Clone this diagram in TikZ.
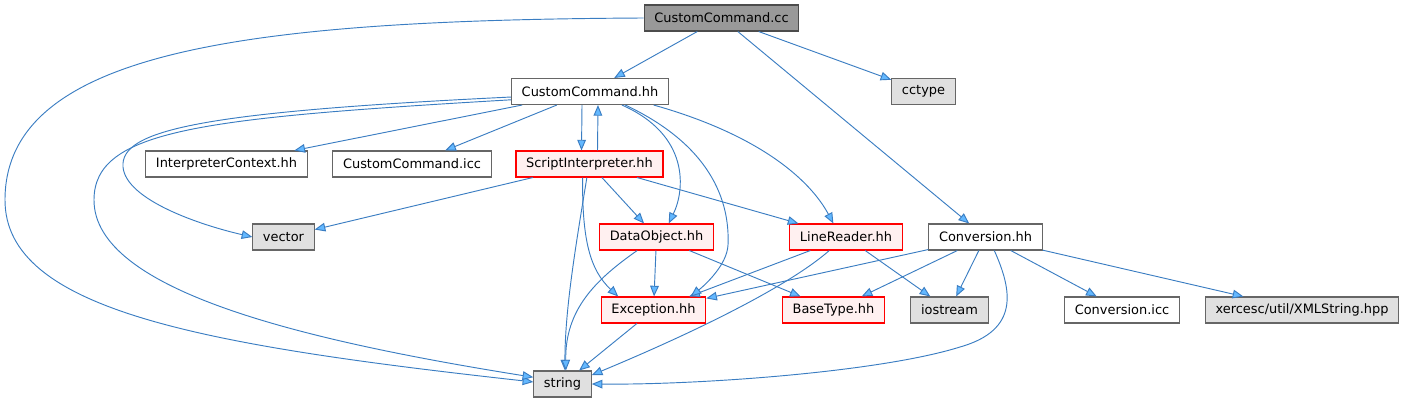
\documentclass[tikz,border=0pt]{standalone}
\usepackage{fontspec}
\setmainfont{DejaVu Sans}
\usetikzlibrary{arrows.meta}
\definecolor{depblue}{HTML}{3A7DC2}
\definecolor{depfill}{HTML}{63B8FF}
\definecolor{boxgray}{HTML}{666666}
\definecolor{redline}{HTML}{FF0000}
\definecolor{redfill}{HTML}{FFF0F0}
\definecolor{sysfill}{HTML}{E0E0E0}
\definecolor{mainfill}{HTML}{999999}
\tikzset{
    every node/.style={font=\fontsize{9.7}{11}\selectfont},
    filebox/.style={rectangle,draw=boxgray,fill=white,line width=0.8pt,inner xsep=7.6pt,inner ysep=0pt,minimum height=19.5pt},
    mainbox/.style={filebox,fill=mainfill,draw=black!70},
    sysbox/.style={filebox,fill=sysfill},
    badbox/.style={filebox,draw=redline,fill=redfill},
    dep/.style={draw=depblue,line width=0.7pt,-{Triangle[length=8pt,width=6.5pt,fill=depfill]}}
}
\begin{document}
\begin{tikzpicture}[x=0.75pt,y=-0.75pt]
\useasboundingbox (0,0) rectangle (1405,403);
\node[mainbox] (cc) at (721.5,18) {CustomCommand.cc};
\node[filebox] (hh) at (590,91.5) {CustomCommand.hh};
\node[sysbox] (cctype) at (923.5,91.5) {cctype};
\node[filebox] (ictx) at (226.5,164) {InterpreterContext.hh};
\node[filebox] (icc) at (412,164) {CustomCommand.icc};
\node[badbox] (si) at (589.5,164) {ScriptInterpreter.hh};
\node[sysbox] (vec) at (283.5,237) {vector};
\node[badbox] (dobj) at (656.5,237) {DataObject.hh};
\node[badbox] (lr) at (846,237) {LineReader.hh};
\node[filebox] (conv) at (985.5,237) {Conversion.hh};
\node[badbox] (exc) at (653.5,310) {Exception.hh};
\node[badbox] (bt) at (833.5,310) {BaseType.hh};
\node[sysbox] (ios) at (949.5,310) {iostream};
\node[filebox] (cicc) at (1122,310) {Conversion.icc};
\node[sysbox] (xml) at (1302,310) {xercesc/util/XMLString.hpp};
\node[sysbox] (str) at (562.5,384) {string};
\foreach \a/\b in {cc/hh,cc/cctype,cc/conv,hh/ictx,hh/icc,si/vec,si/dobj,si/lr,dobj/exc,dobj/bt,lr/exc,lr/ios,conv/exc,conv/bt,conv/ios,conv/cicc,conv/xml,exc/str}
    \draw[dep] (\a) -- (\b);
\draw[dep] ([xshift=-6pt]hh.south) -- ([xshift=-6pt]si.north);
\draw[dep] ([xshift=6pt]si.north) -- ([xshift=6pt]hh.south);
\draw[dep] (cc.west) .. controls (250,20) and (5,50) .. (5,200) .. controls (5,310) and (200,345) .. (str.176);
\draw[dep] (hh.184) .. controls (200,112) and (120,130) .. (123,167) .. controls (126,200) and (200,225) .. (vec.west);
\draw[dep] (hh.186) .. controls (200,118) and (94,130) .. (94,200) .. controls (94,290) and (300,340) .. (str.167);
\draw[dep] (hh.337) .. controls (690,135) and (685,190) .. (dobj.48);
\draw[dep] (hh.339) .. controls (710,145) and (730,200) .. (728,245) .. controls (727,265) and (705,285) .. (exc.20);
\draw[dep] (hh.348) .. controls (760,135) and (810,180) .. (lr.133);
\draw[dep] (si.259) .. controls (575,250) and (565,310) .. (str.80);
\draw[dep] (si.243) .. controls (582,240) and (590,270) .. (exc.159);
\draw[dep] (dobj.215) .. controls (595,280) and (565,310) .. (str.76);
\draw[dep] (lr.219) .. controls (790,285) and (700,330) .. (str.17);
\draw[dep] (conv.303) .. controls (1012,290) and (1020,330) .. (960,347) .. controls (880,372) and (700,385) .. (str.east);
\end{tikzpicture}
\end{document}
